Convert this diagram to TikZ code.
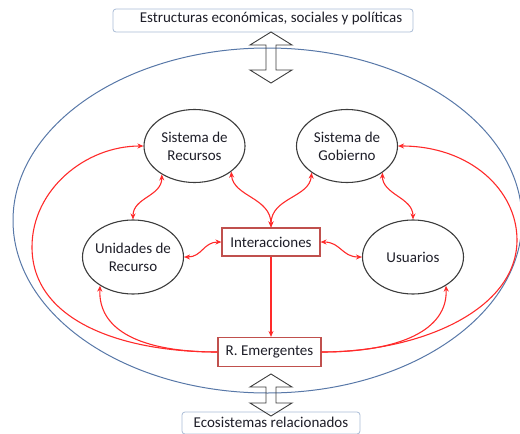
\documentclass[tikz,border=0pt]{standalone}
\usepackage{fontspec}
\setmainfont{Carlito}
\usetikzlibrary{shapes.geometric,arrows.meta}
\definecolor{linkred}{HTML}{FF2A2A}
\definecolor{boxred}{HTML}{C0504D}
\definecolor{outline}{HTML}{3C3C3C}
\definecolor{envblue}{HTML}{5878A8}
\definecolor{framegrey}{HTML}{A9BCD6}
\definecolor{ink}{HTML}{1E1E28}

\begin{document}
\begin{tikzpicture}[x=1pt,y=-1pt,
  font=\fontsize{15}{18}\selectfont,
  sysnode/.style={ellipse, draw=outline, line width=1.1pt, minimum width=101pt, minimum height=73pt, inner sep=0pt},
  caption/.style={align=center, text=ink, inner sep=0pt},
  procbox/.style={draw=boxred, line width=1.1pt, fill=white, minimum height=28pt, inner sep=0pt, text=ink},
  framebox/.style={draw=framegrey, line width=0.8pt, rounded corners=3pt, fill=white, inner sep=0pt},
  link/.style={draw=linkred, line width=1.1pt},
  twoway/.style={link, {Stealth[length=6pt,width=5pt]}-{Stealth[length=6pt,width=5pt]}},
  oneway/.style={link, -{Stealth[length=6pt,width=5pt]}},
  hollowarrow/.style={draw=outline, line width=0.9pt, line join=miter}
]
\useasboundingbox (0,0) rectangle (520,434);
\clip (0,0) rectangle (520,434);

% surrounding social-ecological system
\draw[envblue, line width=1pt] (267.5,220.5) ellipse [x radius=254.5, y radius=172.5];

% outer context boxes
\node[framebox, minimum width=300pt, minimum height=23pt] (macro) at (263,20.5) {};
\node[caption] (macrotext) at (271,19) {Estructuras económicas, sociales y políticas};
\node[framebox, minimum width=178pt, minimum height=22pt] (eco) at (271,423) {};
\node[caption] (ecotext) at (271,422) {Ecosistemas relacionados};

% hollow double arrows linking the context to the system
\draw[hollowarrow] (271,32) -- (292,45) -- (276,45) -- (276,70) -- (292,70) -- (271,83)
  -- (250,70) -- (266,70) -- (266,45) -- (250,45) -- cycle;
\draw[hollowarrow] (271,374) -- (292,387) -- (276,387) -- (276,403) -- (292,403) -- (271,416)
  -- (250,403) -- (266,403) -- (266,387) -- (250,387) -- cycle;

% subsystems
\node[sysnode] (sr) at (194.5,146) {};
\node[caption] at (sr) {Sistema de\\Recursos};
\node[sysnode] (sg) at (347,146) {};
\node[caption] at (sg) {Sistema de\\Gobierno};
\node[sysnode, minimum height=74pt] (ur) at (133,257) {};
\node[caption] at (ur) {Unidades de\\Recurso};
\node[sysnode, minimum height=74pt] (us) at (413,257) {};
\node[caption] at (us) {Usuarios};

% interactions and outcomes
\node[procbox, minimum width=98pt] (in) at (271,242) {Interacciones};
\node[procbox, minimum width=103pt, minimum height=29pt] (re) at (269.5,352) {R. Emergentes};

% way points of the long feedback loops
\coordinate (lw) at (32,247);
\coordinate (rw) at (517,240);

% two-way links between subsystems and interactions
\draw[twoway] (sr.-139) .. controls +(0,22) and +(0,-22) .. (ur.north);
\draw[twoway] (sg.-37) .. controls +(0,22) and +(0,-22) .. (us.north);
\draw[twoway] (ur.east) .. controls +(18,0) and +(-18,0) .. (in.west);
\draw[twoway] (in.east) .. controls +(20,0) and +(-20,0) .. (us.west);
\draw[twoway] (in.north) .. controls +(0,-30) and +(2,25) .. (sr.-35);
\draw[twoway] (in.north) .. controls +(0,-30) and +(-2,25) .. (sg.-143);

% interactions produce outcomes
\draw[oneway] (in.south) -- (in.south |- re.north);

% feedback from outcomes
\draw[oneway] (re.west) .. controls (140,352) and (98,330) .. (ur.-139);
\draw[oneway] (re.west) .. controls (120,352) and (32,320) .. (lw)
  .. controls (32,190) and (85,146) .. (sr.west);
\draw[oneway] (re.east) .. controls (400,352) and (448,330) .. (us.-41.5);
\draw[oneway] (re.east) .. controls (420,352) and (517,310) .. (rw)
  .. controls (517,190) and (470,146) .. (sg.east);
\end{tikzpicture}
\end{document}
